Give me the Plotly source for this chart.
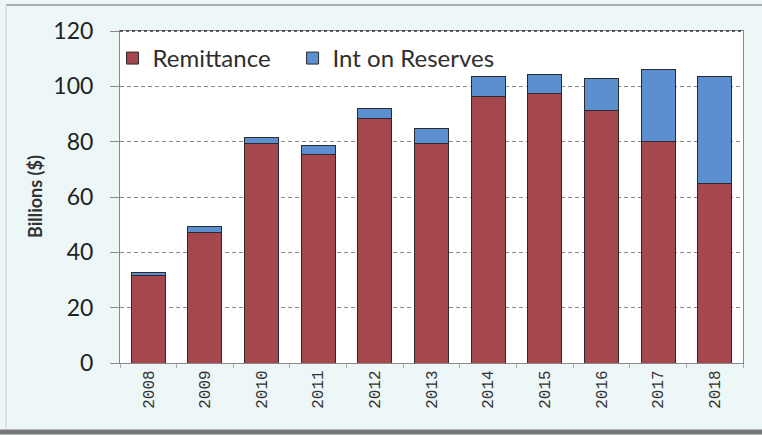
import plotly.graph_objects as go

years = ["2008", "2009", "2010", "2011", "2012", "2013", "2014", "2015", "2016", "2017", "2018"]
remittance = [31.5, 47.1, 79.2, 75.3, 88.2, 79.2, 96.3, 97.4, 91.4, 80.2, 65.0]
int_on_reserves = [1.2, 2.4, 2.3, 3.3, 3.8, 5.6, 7.1, 6.7, 11.5, 26.0, 38.4]

L, R, T, B = 120, 19, 31, 72
W, H = 762, 435
pw, ph = W - L - R, H - T - B
BG = "#eef7f8"

fig = go.Figure()
fig.add_trace(go.Bar(
    x=years, y=remittance, name="Remittance", legend="legend",
    marker=dict(color="#a6474d", line=dict(color="#2b2b2b", width=1)),
))
fig.add_trace(go.Bar(
    x=years, y=int_on_reserves, name="Int on Reserves", legend="legend2",
    marker=dict(color="#5b8fd0", line=dict(color="#2b2b2b", width=1)),
))

legend_style = dict(
    orientation="h", y=0.985, xanchor="left", yanchor="top",
    font=dict(family="Lato, Open Sans, sans-serif", size=24, color="#2e2e2e"),
    bgcolor="rgba(0,0,0,0)", itemwidth=30,
)

fig.update_layout(
    width=W, height=H,
    barmode="stack", bargap=0.4,
    margin=dict(l=L, r=R, t=T, b=B),
    paper_bgcolor=BG,
    plot_bgcolor="#ffffff",
    showlegend=True,
    legend=dict(x=-0.012, **legend_style),
    legend2=dict(x=0.277, **legend_style),
    xaxis=dict(
        type="category", tickangle=-90, tickson="boundaries",
        ticks="outside", ticklen=4, tickcolor="#aaaaaa",
        showline=True, linecolor="#888888", linewidth=1, mirror=True,
        tickfont=dict(family="Liberation Mono, monospace", size=16, color="#333333"),
        showgrid=False,
    ),
    yaxis=dict(
        range=[0, 120], dtick=20,
        ticks="outside", ticklen=9, tickcolor="#888888",
        ticklabelstandoff=12,
        showline=True, linecolor="#888888", linewidth=1, mirror=True,
        gridcolor="#8a8a8a", griddash="4px,3px", gridwidth=1,
        tickfont=dict(family="Lato, Open Sans, sans-serif", size=23, color="#222222"),
        zeroline=False,
    ),
    annotations=[dict(
        text="<b>Billions ($)</b>", textangle=-90,
        xref="paper", yref="paper", x=(35 - L) / pw, y=(H - B - 196) / ph,
        xanchor="center", yanchor="middle", showarrow=False,
        font=dict(family="Lato, Open Sans, sans-serif", size=18, color="#333333"),
    )],
    shapes=[
        dict(type="line", xref="paper", yref="paper",
             x0=(6 - L) / pw, x1=(W - L) / pw, y0=(H - B - 5) / ph, y1=(H - B - 5) / ph,
             line=dict(color="#999999", width=1.5)),
        dict(type="line", xref="paper", yref="paper",
             x0=(0 - L) / pw, x1=(W - L) / pw, y0=(H - B - 432) / ph, y1=(H - B - 432) / ph,
             line=dict(color="#777777", width=5)),
        dict(type="line", xref="paper", yref="paper",
             x0=(6 - L) / pw, x1=(6 - L) / pw, y0=(H - B - 5) / ph, y1=(H - B - 430) / ph,
             line=dict(color="#cccccc", width=1)),
        dict(type="line", xref="paper", yref="paper",
             x0=0, x1=1, y0=1, y1=1,
             line=dict(color="#333333", width=1.5, dash="dot")),
    ],
)

fig.write_html(
    "out.html",
    config={"displayModeBar": False},
    post_script=(
        "document.body.style.margin='0';"
        "document.body.style.padding='0';"
        "document.body.style.overflow='hidden';"
        f"document.body.style.background='{BG}';"
    ),
)
